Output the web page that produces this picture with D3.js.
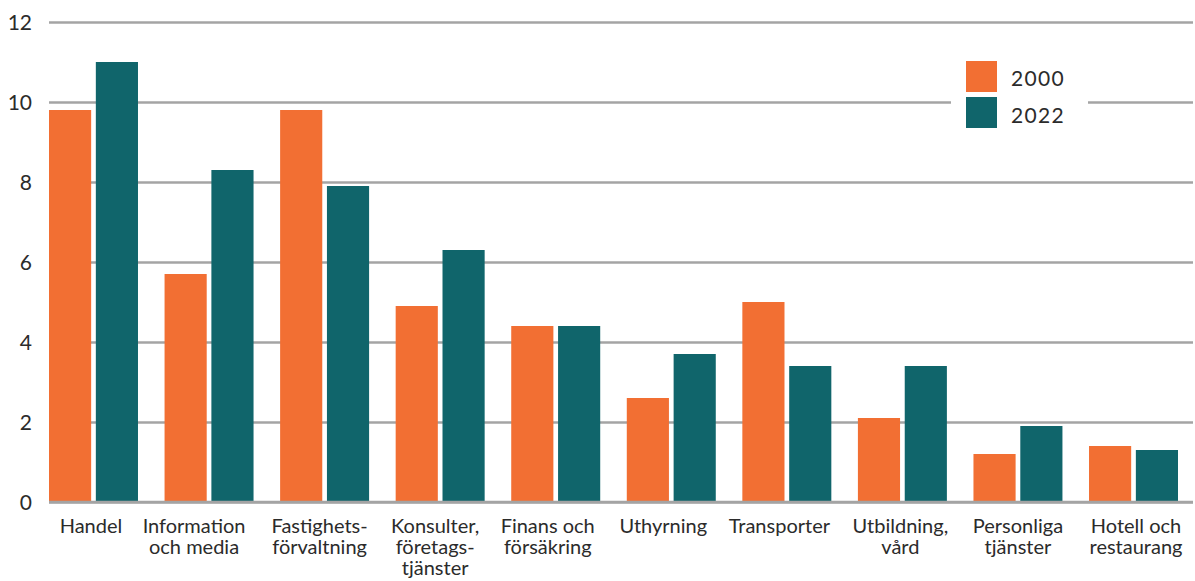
<!DOCTYPE html>
<html>
<head>
<meta charset="utf-8">
<script src="https://cdn.jsdelivr.net/npm/d3@7"></script>
<style>
  body { margin: 0; background: #fff; }
  text { font-family: Lato, "Open Sans", sans-serif; fill: #2b2b2b; }
</style>
</head>
<body>
<svg width="1195" height="581"></svg>
<script>
// data
const categories = ["Handel", "Information och media", "Fastighetsförvaltning", "Konsulter, företagstjänster",
  "Finans och försäkring", "Uthyrning", "Transporter", "Utbildning, vård", "Personliga tjänster", "Hotell och restaurang"];
const categoryLines = [["Handel"], ["Information", "och media"], ["Fastighets-", "förvaltning"],
  ["Konsulter,", "företags-", "tjänster"], ["Finans och", "försäkring"], ["Uthyrning"], ["Transporter"],
  ["Utbildning,", "vård"], ["Personliga", "tjänster"], ["Hotell och", "restaurang"]];
const seriesNames = ["2000", "2022"];
const values2000 = [9.8, 5.7, 9.8, 4.9, 4.4, 2.6, 5.0, 2.1, 1.2, 1.4];
const values2022 = [11.0, 8.3, 7.9, 6.3, 4.4, 3.7, 3.4, 3.4, 1.9, 1.3];
const yTicks = [0, 2, 4, 6, 8, 10, 12];
const colors = ["#f26f33", "#10656b"];

// labels in the original are not exactly centred under their groups
const labelShift = [-2.5, -15, -5, -5, -8, -8, -7.5, -2, 0, 2.5];

const svg = d3.select("svg");

const x0 = d3.scaleBand()
    .domain(categories)
    .range([49, 1178])
    .paddingInner(0.23)
    .paddingOuter(0);

const x1 = d3.scaleBand()
    .domain(seriesNames)
    .range([0, x0.bandwidth()])
    .paddingInner(0.1);

const y = d3.scaleLinear()
    .domain([0, 12])
    .range([502, 22]);

// gridlines
const grid = svg.append("g")
    .attr("transform", "translate(49,0)")
    .call(d3.axisLeft(y).tickValues(yTicks).tickSize(-1144).tickFormat(""));
grid.select(".domain").remove();
grid.selectAll("line").attr("stroke", "#a4a4a4").attr("stroke-width", 2.5);

// tick labels
svg.append("g").selectAll("text")
    .data(yTicks)
    .enter()
    .append("text")
    .attr("x", 32)
    .attr("y", d => y(d) + 7.5)
    .attr("text-anchor", "end")
    .style("font-size", "21px")
    .text(d => d);

// legend box (hides gridline behind it)
const legend = svg.append("g");
legend.append("rect")
    .attr("x", 951).attr("y", 50).attr("width", 137).attr("height", 88)
    .attr("fill", "#fff");
seriesNames.forEach((s, i) => {
  legend.append("rect")
      .attr("x", 966).attr("y", 61 + i * 36)
      .attr("width", 31).attr("height", 31)
      .attr("fill", colors[i]);
  legend.append("text")
      .attr("x", 1011).attr("y", 86 + i * 37)
      .style("font-size", "21px")
      .style("letter-spacing", "1.3px")
      .text(s);
});

// bars
const rows = categories.map((c, i) => ({cat: c, vals: [values2000[i], values2022[i]]}));
const groups = svg.append("g").selectAll("g")
    .data(rows)
    .enter()
    .append("g")
    .attr("transform", d => "translate(" + x0(d.cat) + ",0)");

groups.selectAll("rect")
    .data(d => d.vals.map((v, i) => ({s: seriesNames[i], v: v, i: i})))
    .enter()
    .append("rect")
    .attr("x", d => x1(d.s))
    .attr("width", x1.bandwidth())
    .attr("y", d => y(d.v))
    .attr("height", d => y(0) - y(d.v))
    .attr("fill", d => colors[d.i]);

// baseline over bars
svg.append("line")
    .attr("x1", 49).attr("x2", 1193)
    .attr("y1", y(0)).attr("y2", y(0))
    .attr("stroke", "#a4a4a4").attr("stroke-width", 2.5);

// category labels, one text per line
const labelG = svg.append("g");
categories.forEach((c, i) => {
  const cx = x0(c) + x0.bandwidth() / 2 + labelShift[i];
  labelG.selectAll(null)
    .data(categoryLines[i])
    .enter()
    .append("text")
    .attr("x", cx)
    .attr("y", (l, j) => 533 + j * 21)
    .attr("text-anchor", "middle")
    .style("font-size", "20px")
    .text(l => l);
});
</script>
</body>
</html>
